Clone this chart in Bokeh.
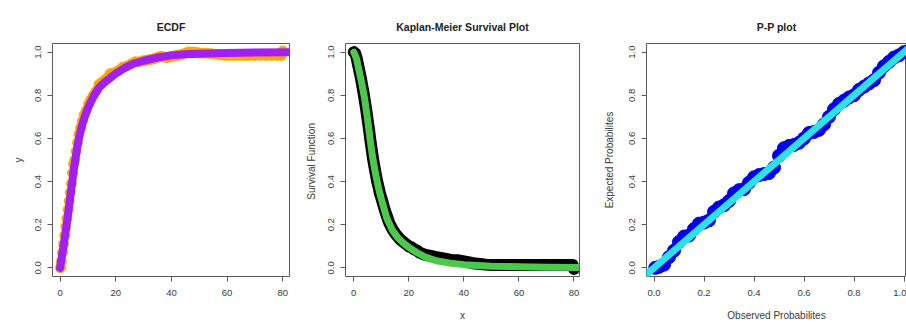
from bokeh.plotting import figure
from bokeh.layouts import row
from bokeh.models import FixedTicker, NumeralTickFormatter, Range1d, Slope
from bokeh.embed import file_html
from bokeh.resources import INLINE

# ---------------- data ----------------
titles = ["ECDF", "Kaplan-Meier Survival Plot", "P-P plot"]

time_ticks = [0, 20, 40, 60, 80]
prob_ticks = [0.0, 0.2, 0.4, 0.6, 0.8, 1.0]

# ECDF panel: fitted CDF (purple line)
cdf_fit_x = [0, 1, 2, 3, 4, 5, 6, 7, 8, 9, 10, 12, 14, 16, 18, 20, 23, 26, 30, 35, 40, 45, 50, 60, 70, 82]
cdf_fit_y = [0.0, 0.08, 0.165, 0.26, 0.36, 0.46, 0.545, 0.615, 0.665, 0.705, 0.74, 0.795, 0.835, 0.86,
             0.88, 0.90, 0.925, 0.945, 0.96, 0.975, 0.985, 0.99, 0.993, 0.996, 0.998, 0.999]

# ECDF panel: empirical points (orange)
ecdf_x = [0.2, 0.5, 0.9, 1.3, 1.7, 2.1, 2.5, 2.9, 3.3, 3.7, 4.1, 4.5, 4.9, 5.3, 5.8, 6.3, 6.8, 7.4, 8.0,
          8.7, 9.5, 10.3, 11.1, 12.0, 13.0, 14.0, 15.0, 16.0, 17.0, 18.0, 19.5, 21.0, 22.5, 24.0, 25.5,
          27.0, 28.5, 30.0, 31.0, 32.0, 33.0, 34.0, 35.0, 36.0, 37.0, 38.0, 39.0, 40.0, 41.0, 42.0, 43.0,
          44.0, 45.0, 46.0, 47.0, 48.0, 49.0, 50.0, 51.5, 53.0, 54.5, 56.0, 57.5, 59.0, 60.5, 62.0, 63.5,
          65.0, 66.5, 68.0, 70.0, 72.0, 74.0, 76.0, 78.0, 79.5, 80.0]
ecdf_y = [0.0, 0.03, 0.07, 0.11, 0.15, 0.19, 0.23, 0.27, 0.31, 0.35, 0.39, 0.44, 0.48, 0.50, 0.54, 0.58,
          0.62, 0.65, 0.68, 0.71, 0.73, 0.76, 0.78, 0.80, 0.82, 0.85, 0.86, 0.87, 0.88, 0.90, 0.905, 0.915,
          0.93, 0.935, 0.945, 0.955, 0.955, 0.96, 0.962, 0.965, 0.967, 0.97, 0.975, 0.98, 0.978, 0.975,
          0.977, 0.98, 0.982, 0.985, 0.987, 0.99, 0.995, 1.0, 1.0, 1.0, 0.998, 0.995, 0.995, 0.995, 0.992,
          0.99, 0.988, 0.985, 0.985, 0.985, 0.985, 0.985, 0.985, 0.985, 0.985, 0.985, 0.985, 0.985,
          0.985, 0.985, 1.005]

# Kaplan-Meier panel: KM estimate (black)
km_x = [0, 0.5, 1, 1.5, 2, 2.5, 3, 3.5, 4, 4.5, 5, 5.5, 6, 6.5, 7, 7.5, 8, 8.5, 9, 9.5, 10, 11, 12, 13,
        14, 15, 16, 17, 18, 19, 20, 21, 22, 23, 24, 25, 26, 28, 30, 32, 34, 36, 38, 40, 42, 44, 46, 48,
        50, 55, 60, 65, 70, 75, 79.5, 80]
km_y = [1.0, 0.995, 0.975, 0.945, 0.915, 0.885, 0.85, 0.815, 0.775, 0.735, 0.69, 0.645, 0.595, 0.55,
        0.505, 0.47, 0.435, 0.40, 0.375, 0.345, 0.325, 0.28, 0.24, 0.205, 0.18, 0.16, 0.145, 0.13, 0.12,
        0.11, 0.10, 0.095, 0.085, 0.08, 0.07, 0.065, 0.06, 0.055, 0.05, 0.045, 0.04, 0.035, 0.035, 0.03,
        0.025, 0.02, 0.018, 0.015, 0.013, 0.013, 0.013, 0.013, 0.013, 0.013, 0.013, -0.005]

# Kaplan-Meier panel: fitted survival function (green)
surv_fit_x = [0, 1, 2, 3, 4, 5, 6, 7, 8, 9, 10, 12, 14, 16, 18, 20, 23, 26, 30, 35, 40, 45, 50, 60, 70, 82]
surv_fit_y = [1.0, 0.97, 0.91, 0.85, 0.78, 0.69, 0.59, 0.50, 0.43, 0.37, 0.32, 0.23, 0.175, 0.14, 0.115,
              0.095, 0.07, 0.05, 0.033, 0.022, 0.015, 0.011, 0.008, 0.005, 0.003, 0.002]

# P-P panel
pp_observed = [0.005, 0.02, 0.04, 0.06, 0.08, 0.10, 0.12, 0.14, 0.16, 0.18, 0.20, 0.22, 0.24, 0.26, 0.28,
               0.30, 0.32, 0.34, 0.36, 0.38, 0.40, 0.42, 0.44, 0.46, 0.48, 0.50, 0.52, 0.54, 0.56, 0.58,
               0.60, 0.62, 0.64, 0.66, 0.68, 0.70, 0.72, 0.74, 0.76, 0.78, 0.80, 0.82, 0.84, 0.86, 0.88,
               0.90, 0.92, 0.94, 0.96, 0.98, 1.00]
pp_expected = [0.0, 0.005, 0.015, 0.05, 0.08, 0.12, 0.145, 0.15, 0.18, 0.205, 0.21, 0.22, 0.26, 0.28, 0.29,
               0.31, 0.345, 0.36, 0.365, 0.395, 0.42, 0.43, 0.435, 0.44, 0.465, 0.52, 0.555, 0.565, 0.57,
               0.58, 0.60, 0.625, 0.63, 0.64, 0.665, 0.70, 0.735, 0.76, 0.775, 0.79, 0.80, 0.825, 0.84,
               0.855, 0.87, 0.905, 0.935, 0.955, 0.975, 0.985, 1.0]

FONT = "Liberation Sans"
BOX = "#5a5a5a"
TXT = "#3a3a3a"


def make_fig(width, left, right, xr, yr, title, xlabel, ylabel, xticks, xfmt, ylab_standoff=9):
    p = figure(width=width, height=325, x_range=Range1d(*xr), y_range=Range1d(*yr),
               output_backend="svg", toolbar_location=None, title=title,
               min_border_left=left, min_border_right=right, min_border_top=43, min_border_bottom=49)
    p.background_fill_color = "white"
    p.border_fill_color = "white"
    p.outline_line_color = BOX
    p.outline_line_width = 1
    p.grid.visible = False

    p.title.text_font = FONT
    p.title.text_font_size = "10.5px"
    p.title.text_font_style = "bold"
    p.title.text_color = "#222222"
    p.title.align = "center"
    p.title.standoff = 22

    for ax in (p.xaxis[0], p.yaxis[0]):
        ax.axis_line_color = None
        ax.major_tick_line_color = BOX
        ax.major_tick_out = 5
        ax.major_tick_in = 0
        ax.minor_tick_line_color = None
        ax.major_label_text_font = FONT
        ax.major_label_text_font_size = "9.5px"
        ax.major_label_text_color = TXT
        ax.axis_label_text_font = FONT
        ax.axis_label_text_font_size = "10px"
        ax.axis_label_text_font_style = "normal"
        ax.axis_label_text_color = TXT

    p.xaxis[0].ticker = FixedTicker(ticks=xticks)
    p.xaxis[0].formatter = NumeralTickFormatter(format=xfmt)
    p.xaxis[0].major_label_standoff = 8
    p.xaxis[0].axis_label = xlabel
    p.xaxis[0].axis_label_standoff = 11

    p.yaxis[0].ticker = FixedTicker(ticks=prob_ticks)
    p.yaxis[0].formatter = NumeralTickFormatter(format="0.0")
    p.yaxis[0].major_label_orientation = "vertical"
    p.yaxis[0].major_label_standoff = 6
    p.yaxis[0].axis_label = ylabel
    p.yaxis[0].axis_label_standoff = ylab_standoff
    return p


# Panel 1: ECDF
p1 = make_fig(300, 52, 11, (-2.7, 82.4), (-0.04, 1.04), titles[0], "", "y", time_ticks, "0")
p1.scatter(ecdf_x, ecdf_y, marker="circle", size=10, fill_color="#FFA500", line_color="#FFA500")
p1.line(cdf_fit_x, cdf_fit_y, line_width=8, line_color="#A020F0", line_cap="round", line_join="round")

# Panel 2: Kaplan-Meier
p2 = make_fig(300, 45, 21, (-3.0, 82.0), (-0.04, 1.04), titles[1], "x", "Survival  Function",
              time_ticks, "0")
p2.line(km_x, km_y, line_width=12, line_color="black", line_cap="round", line_join="round")
p2.line(surv_fit_x, surv_fit_y, line_width=7, line_color="#4CC94C", line_cap="round", line_join="round")

# Panel 3: P-P plot
p3 = make_fig(306, 46, 0, (-0.03, 1.01), (-0.04, 1.04), titles[2], "Observed Probabilites",
              "Expected Probabilites", prob_ticks, "0.0", ylab_standoff=12)
p3.scatter(pp_observed, pp_expected, marker="circle", size=13, fill_color="#0000E6", line_color="#0000E6")
p3.add_layout(Slope(gradient=1, y_intercept=0, line_color="#2EE0E8", line_width=7))

layout = row(p1, p2, p3, spacing=0)
open("out.html", "w").write(file_html(layout, INLINE))
